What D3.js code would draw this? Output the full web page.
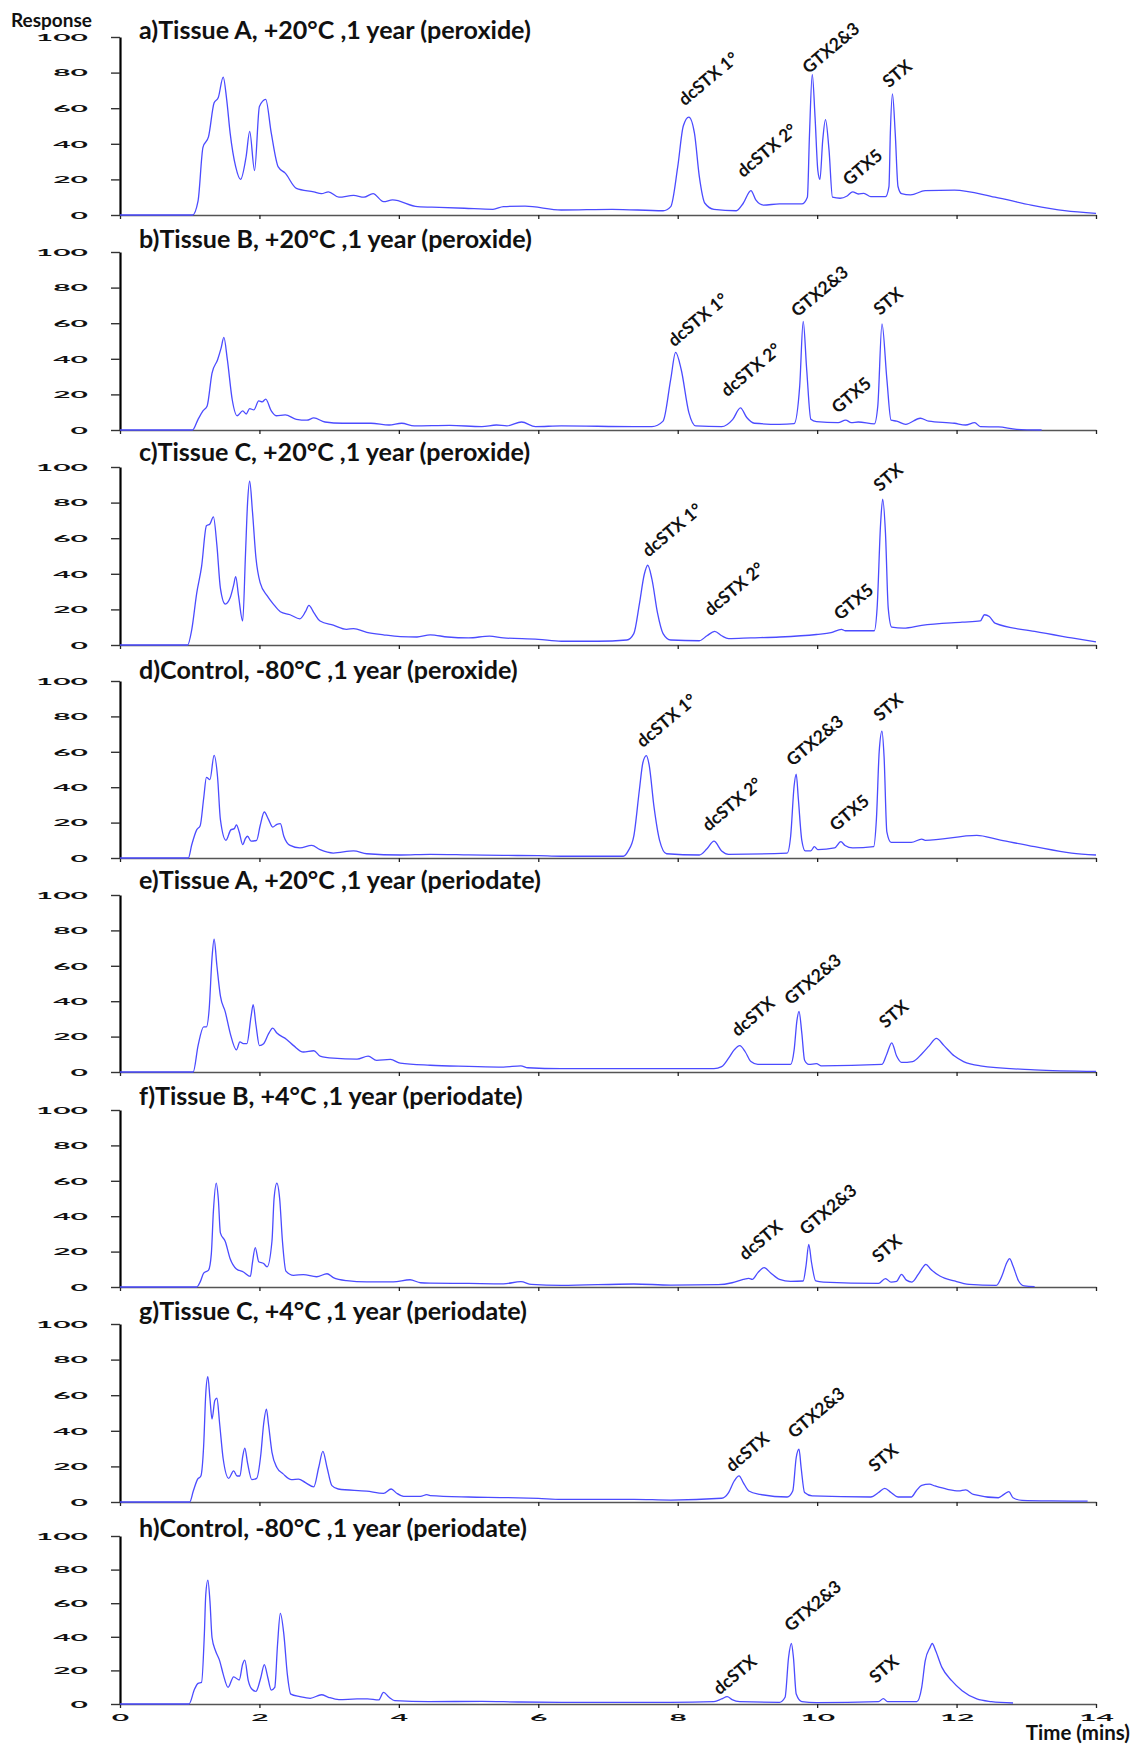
<!DOCTYPE html>
<html>
<head>
<meta charset="utf-8">
<script src="https://cdn.jsdelivr.net/npm/d3@7"></script>
<style>
  body { margin: 0; background: #fff; }
  svg text { font-family: Lato, "Open Sans", sans-serif; }
</style>
</head>
<body>
<div id="chart"></div>
<script>
// ---------- data (time in min, response 0-100) ----------
const titles = [
  "a)Tissue A, +20°C ,1 year (peroxide)",
  "b)Tissue B, +20°C ,1 year (peroxide)",
  "c)Tissue C, +20°C ,1 year (peroxide)",
  "d)Control, -80°C ,1 year (peroxide)",
  "e)Tissue A, +20°C ,1 year (periodate)",
  "f)Tissue B, +4°C ,1 year (periodate)",
  "g)Tissue C, +4°C ,1 year (periodate)",
  "h)Control, -80°C ,1 year (periodate)"
];

const traceA = [[0,0],[1.04,0],[1.12,8],[1.19,38],[1.27,44],[1.35,63],[1.41,66],[1.48,77.5],[1.53,65],[1.58,46],[1.66,27],[1.73,20],[1.81,33],[1.86,47],[1.93,25],[2.0,61],[2.09,65],[2.17,46],[2.27,27],[2.37,23.5],[2.53,15],[2.78,13],[2.89,12],[2.99,13],[3.14,10],[3.35,11],[3.5,10],[3.63,12],[3.78,7.5],[3.91,8.5],[4.27,4.7],[4.58,4.3],[4.94,3.8],[5.35,3.2],[5.5,4.7],[5.81,5],[6.33,2.8],[7.06,3.2],[7.79,2.4],[7.9,4.7],[8.0,27],[8.08,50],[8.16,55],[8.24,46],[8.31,21.6],[8.39,6.6],[8.52,3.2],[8.84,2.4],[8.94,6.6],[9.05,13.7],[9.12,8.5],[9.23,5.6],[9.46,6.2],[9.78,6.2],[9.86,10],[9.89,45],[9.93,79],[9.97,55],[10.01,25],[10.04,20],[10.08,42],[10.12,53.6],[10.17,36.7],[10.22,10],[10.33,9.4],[10.43,10.7],[10.51,13],[10.59,11.8],[10.67,12.2],[10.77,10.3],[10.98,10.3],[11.03,16],[11.05,46],[11.08,68],[11.12,46],[11.16,16],[11.21,12],[11.34,11.3],[11.55,13.7],[11.97,14],[12.55,10],[13.07,5.6],[13.55,2.4],[14.0,0.9]];

const traceB = [[0,0],[1.04,0],[1.12,6],[1.19,10.7],[1.25,13.5],[1.32,32],[1.4,39.5],[1.45,46],[1.49,52],[1.54,39.5],[1.61,17],[1.68,8],[1.76,10.7],[1.81,9],[1.86,12],[1.92,11.3],[1.99,16.4],[2.04,15.8],[2.09,17.3],[2.17,10.7],[2.24,8],[2.37,8.5],[2.53,6],[2.68,5.5],[2.78,6.8],[2.94,4.5],[3.19,3.8],[3.6,3.8],[3.86,2.8],[4.04,3.8],[4.22,2.3],[4.73,2.6],[5.19,1.9],[5.4,2.8],[5.55,2.3],[5.76,4.5],[5.96,1.9],[6.33,2.3],[7.37,1.9],[7.63,1.9],[7.79,5],[7.9,28.6],[7.97,43.6],[8.05,34],[8.16,9.8],[8.26,2.3],[8.63,1.9],[8.79,6],[8.9,12.4],[8.99,7],[9.1,3.8],[9.46,3.2],[9.67,3.6],[9.75,24.8],[9.8,61],[9.85,34],[9.91,6],[9.99,4.7],[10.3,4.1],[10.41,5.6],[10.49,4.1],[10.59,4.5],[10.82,3.4],[10.87,13.5],[10.93,59.6],[11.0,28.6],[11.06,5.5],[11.14,5],[11.27,3.2],[11.48,6.6],[11.6,5],[11.97,3.8],[12.13,2.8],[12.26,4.1],[12.34,1.9],[12.6,1.7],[12.86,0.4],[13.22,0]];

const traceC = [[0,0],[0.97,0],[1.03,8.8],[1.1,29],[1.17,44],[1.24,67],[1.29,68],[1.34,72],[1.39,56],[1.44,32],[1.51,23],[1.58,26.5],[1.63,33.6],[1.66,38.4],[1.7,27.7],[1.76,13.5],[1.8,51],[1.83,80],[1.86,92],[1.9,75],[1.95,49],[2.01,35],[2.11,27.7],[2.2,23],[2.3,18.7],[2.44,17],[2.58,14.7],[2.66,18.7],[2.71,22.3],[2.78,18.2],[2.87,13.5],[3.06,11.1],[3.25,8.8],[3.35,9.2],[3.54,7.1],[3.78,5.7],[4.02,4.7],[4.26,4.5],[4.45,5.7],[4.7,4.5],[5.0,4],[5.3,5],[5.5,4],[6.0,3.2],[6.33,2.1],[6.85,2.1],[7.27,2.8],[7.37,6.4],[7.45,23],[7.52,39.6],[7.57,44.8],[7.63,37],[7.71,18],[7.79,6.4],[7.9,2.8],[8.31,2.4],[8.42,5.2],[8.53,7.6],[8.63,5.2],[8.73,3.6],[9.05,4],[9.46,4.5],[9.99,5.9],[10.2,6.9],[10.35,8.8],[10.4,8],[10.82,8],[10.86,20.6],[10.91,68],[10.94,82],[10.98,63],[11.02,20.6],[11.07,10],[11.24,9.5],[11.5,11],[12.08,12.8],[12.34,13.5],[12.4,17],[12.47,16],[12.55,12.3],[13.12,7.6],[13.65,4],[14.0,1.7]];

const traceD = [[0,0],[0.98,0],[1.03,7.6],[1.1,15.9],[1.15,18.2],[1.2,33.6],[1.24,45.5],[1.29,44.3],[1.35,58],[1.4,45.5],[1.44,21.8],[1.52,10],[1.59,15.9],[1.64,16.6],[1.67,18.7],[1.71,14.7],[1.76,7.6],[1.8,11.1],[1.83,12.3],[1.88,9.5],[1.96,10],[2.01,18.2],[2.07,26],[2.13,21.8],[2.19,17.5],[2.25,19],[2.3,19.4],[2.35,12.3],[2.44,7.1],[2.58,5.7],[2.75,7.1],[2.87,4.7],[3.06,2.8],[3.35,4],[3.54,2.4],[4.02,1.7],[4.45,2.1],[5.0,1.8],[5.5,1.5],[6.0,1.3],[6.33,1],[7.22,1],[7.29,4],[7.37,12.3],[7.45,38.4],[7.5,53.8],[7.55,57.8],[7.59,52.6],[7.66,28.9],[7.74,10],[7.84,2.4],[8.31,1.7],[8.42,5.2],[8.52,9.5],[8.63,4],[8.73,2.1],[9.57,2.8],[9.62,12.3],[9.67,40.8],[9.7,47.4],[9.73,33.6],[9.78,10],[9.83,4],[9.91,4],[9.96,6.4],[10.01,4.7],[10.25,5.7],[10.34,9.2],[10.4,7.1],[10.51,5.7],[10.81,6.4],[10.85,21.8],[10.89,60],[10.93,71.6],[10.96,57.3],[11.0,14.7],[11.06,8.8],[11.35,8.8],[11.5,10.7],[11.55,10],[12.29,12.8],[12.6,10.4],[13.12,6.4],[13.65,2.8],[14.0,1.7]];

const traceE = [[0,0],[1.05,0],[1.12,14.9],[1.2,25.5],[1.24,25.5],[1.28,36],[1.32,64.5],[1.35,75],[1.39,60],[1.44,43],[1.51,34],[1.58,22],[1.67,12.5],[1.72,17],[1.77,16],[1.82,16],[1.88,31.4],[1.91,38],[1.95,26.7],[2.0,14.9],[2.06,16],[2.13,21.5],[2.19,24.8],[2.25,22],[2.39,18.4],[2.49,14.9],[2.63,11.3],[2.78,12],[2.87,9],[3.06,7.8],[3.4,7.3],[3.56,9],[3.68,6.6],[3.88,7.1],[4.02,5],[4.45,3.8],[5.0,3.2],[5.5,2.8],[5.75,3.5],[5.85,2.4],[6.33,1.9],[8.52,1.9],[8.63,3],[8.73,7.8],[8.81,12.5],[8.89,14.9],[8.97,11.3],[9.05,5.9],[9.15,4.3],[9.62,4.3],[9.67,12.5],[9.71,29],[9.74,34.3],[9.78,22],[9.82,6.6],[9.88,4.3],[9.99,4.7],[10.06,3.5],[10.93,4.3],[11.0,10.2],[11.07,16.5],[11.14,9],[11.21,5.4],[11.37,5.9],[11.5,10.2],[11.61,14.9],[11.71,19],[11.82,14.9],[11.97,9],[12.1,5.9],[12.34,3.5],[13.12,1.2],[14.0,0.3]];

const traceF = [[0,0],[1.1,0],[1.15,2.9],[1.2,7.8],[1.27,9.5],[1.31,18.7],[1.34,43],[1.38,58.7],[1.41,50],[1.44,30.6],[1.51,25.7],[1.58,16],[1.67,10.2],[1.77,8.5],[1.87,6],[1.9,13.8],[1.94,22.3],[1.99,14.3],[2.06,13.3],[2.11,11.4],[2.18,26],[2.21,50],[2.25,58.7],[2.29,50],[2.33,26],[2.38,9],[2.49,6.6],[2.63,7],[2.82,5.8],[2.97,7.5],[3.06,5.3],[3.25,3.6],[3.54,2.9],[3.92,2.9],[4.16,4.1],[4.31,2.4],[4.45,2.2],[5.0,2],[5.5,1.8],[5.75,3],[5.9,1.5],[6.33,0.9],[7.37,1.7],[7.9,1.1],[8.58,1.3],[8.78,2.4],[8.94,4.3],[9.02,4.9],[9.07,4.3],[9.15,8.1],[9.24,10.9],[9.33,8.1],[9.46,4.3],[9.62,3.2],[9.8,3.4],[9.84,11.8],[9.88,24],[9.92,13.7],[9.98,3.4],[10.09,2.8],[10.88,2],[10.98,4.7],[11.06,2.8],[11.14,3.2],[11.21,7.1],[11.28,3.9],[11.36,2.8],[11.45,7.1],[11.53,11.8],[11.56,12.8],[11.63,10],[11.76,6.2],[11.97,3.4],[12.18,1.5],[12.57,0.9],[12.65,6.2],[12.72,13.7],[12.76,16],[12.81,11.8],[12.89,3.4],[12.97,0.6],[13.12,0.2]];

const traceG = [[0,0],[1.0,0],[1.05,6],[1.11,12.6],[1.16,14.6],[1.2,31.6],[1.23,60.7],[1.26,70.4],[1.29,58.3],[1.32,46.6],[1.36,57],[1.39,58.3],[1.43,43.7],[1.48,24.3],[1.56,13.3],[1.63,17.5],[1.68,14.6],[1.72,14.6],[1.76,25.5],[1.79,30.3],[1.83,21.8],[1.89,12.6],[1.96,13.3],[2.02,26.7],[2.06,43.7],[2.1,52.2],[2.13,43.7],[2.18,27.9],[2.25,19.4],[2.34,15.8],[2.46,12.6],[2.56,12.9],[2.66,10.9],[2.78,8.5],[2.85,19.4],[2.91,28.4],[2.97,19.4],[3.04,9.2],[3.13,7.3],[3.54,6.1],[3.78,4.9],[3.89,7.3],[3.97,4.9],[4.07,3.2],[4.31,3.2],[4.4,4.1],[4.45,3.6],[5.0,2.8],[5.5,2.5],[6.0,2],[6.33,1.5],[7.37,1.5],[7.9,1.1],[8.63,2.1],[8.73,5.3],[8.81,11.8],[8.88,14.7],[8.94,10.9],[9.02,6.2],[9.18,4.3],[9.57,2.8],[9.65,6.2],[9.7,25],[9.74,29.7],[9.77,19.4],[9.82,5.3],[9.93,3.4],[10.77,2.8],[10.88,5.3],[10.97,7.7],[11.06,5.3],[11.16,2.8],[11.35,2.8],[11.42,6.2],[11.5,9.4],[11.61,10],[11.69,9],[11.87,7.1],[12.03,6.2],[12.13,6.8],[12.24,4.3],[12.6,2.4],[12.68,4.3],[12.75,5.8],[12.81,2.4],[12.94,0.9],[13.36,0.6],[13.88,0.5]];

const traceH = [[0,0],[0.99,0],[1.07,8.9],[1.12,12.3],[1.17,12.9],[1.21,41.6],[1.23,65],[1.26,73.7],[1.29,61.4],[1.32,39.6],[1.37,31.7],[1.43,25.7],[1.48,17.8],[1.55,9.9],[1.63,16.2],[1.71,14.3],[1.76,23.8],[1.79,26.1],[1.84,13.9],[1.89,8.9],[1.95,7.5],[2.02,15.8],[2.07,23.4],[2.12,15.8],[2.17,8.3],[2.22,9.9],[2.26,35.6],[2.3,53.9],[2.35,41.6],[2.4,17.8],[2.45,5.9],[2.58,4.4],[2.73,3.4],[2.89,5.5],[2.99,4],[3.14,2.6],[3.4,3],[3.55,3],[3.71,2.4],[3.78,6.9],[3.86,4],[3.94,2],[4.43,1.4],[5.19,1.6],[5.71,1.2],[6.33,1],[7.9,1],[8.52,1.4],[8.63,3],[8.71,4.4],[8.78,2.6],[8.89,1.4],[9.46,1],[9.54,4],[9.59,27.7],[9.63,36],[9.66,27.7],[9.7,5.9],[9.78,1.4],[9.99,0.8],[10.88,1.4],[10.95,3.2],[11.01,1.4],[11.43,1.4],[11.5,9.9],[11.55,25.7],[11.62,33.7],[11.65,36],[11.7,31.7],[11.79,21.8],[11.93,13.9],[12.08,7.9],[12.29,3],[12.5,1.4],[12.81,0.6]];

const traces = [traceA, traceB, traceC, traceD, traceE, traceF, traceG, traceH];

// peak annotations: [panel index, label, time, response]
const peakLabels = [
  [0,"dcSTX 1°",8.1,61],[0,"dcSTX 2°",8.94,20.7],[0,"GTX2&3",9.88,79],[0,"GTX5",10.46,16],[0,"STX",11.03,71],
  [1,"dcSTX 1°",7.95,46.4],[1,"dcSTX 2°",8.71,18.2],[1,"GTX2&3",9.72,63],[1,"GTX5",10.3,8.8],[1,"STX",10.9,64],
  [2,"dcSTX 1°",7.58,49],[2,"dcSTX 2°",8.47,15.9],[2,"GTX5",10.33,13.5],[2,"STX",10.9,85.8],
  [3,"dcSTX 1°",7.5,62],[3,"dcSTX 2°",8.44,14.7],[3,"GTX2&3",9.65,51.4],[3,"GTX5",10.27,14.7],[3,"STX",10.9,76.8],
  [4,"dcSTX",8.86,19.6],[4,"GTX2&3",9.62,37.4],[4,"STX",10.98,24.3],
  [5,"dcSTX",8.97,14.7],[5,"GTX2&3",9.84,28.8],[5,"STX",10.88,13.3],
  [6,"dcSTX",8.78,16.5],[6,"GTX2&3",9.67,35.3],[6,"STX",10.83,16.5],
  [7,"dcSTX",8.6,5],[7,"GTX2&3",9.62,42.6],[7,"STX",10.84,11.9]
];

const yTicks = [0, 20, 40, 60, 80, 100];
const xTicks = [0, 2, 4, 6, 8, 10, 12, 14];

// ---------- layout ----------
const W = 1133, H = 1744;
const panelTop = [37, 252, 467, 681, 895, 1110, 1324, 1536];
const panelBottom = [215, 430, 645, 858, 1072, 1287, 1502, 1704];
const titleBase = [39, 248, 461, 679, 889, 1105, 1320, 1537];

const svg = d3.select("#chart").append("svg")
  .attr("width", W).attr("height", H)
  .attr("viewBox", `0 0 ${W} ${H}`);

const x = d3.scaleLinear().domain([0, 14]).range([120, 1096]);
const line = d3.line().curve(d3.curveMonotoneX);

const traceColor = "#4b4bff";
const tickFont = "'Liberation Sans', Arial, sans-serif";

traces.forEach((tr, i) => {
  const y = d3.scaleLinear().domain([0, 100]).range([panelBottom[i], panelTop[i]]);
  const g = svg.append("g");

  // x axis
  const xa = g.append("g")
    .attr("transform", `translate(0,${panelBottom[i]})`)
    .call(d3.axisBottom(x).tickValues(xTicks).tickSize(4).tickSizeOuter(0));
  xa.select(".domain").attr("stroke", "#555").attr("stroke-width", 1.5);
  xa.selectAll(".tick line").attr("stroke", "#222").attr("stroke-width", 1.3);
  if (i === traces.length - 1) {
    xa.selectAll(".tick text")
      .attr("y", null).attr("dy", "0.35em")
      .attr("transform", "translate(0,13) scale(3,1)")
      .attr("font-family", tickFont).attr("font-weight", 700)
      .attr("font-size", 10).attr("fill", "#111");
  } else {
    xa.selectAll(".tick text").remove();
  }

  // y axis
  const ya = g.append("g")
    .attr("transform", "translate(120,0)")
    .call(d3.axisLeft(y).tickValues(yTicks).tickSize(9).tickSizeOuter(0));
  ya.select(".domain").attr("stroke", "#000").attr("stroke-width", 2.2);
  ya.selectAll(".tick line").attr("stroke", "#333").attr("stroke-width", 1.4);
  ya.selectAll(".tick text")
    .attr("x", null)
    .attr("transform", "translate(-32,0) scale(3,1)")
    .attr("font-family", tickFont).attr("font-weight", 700)
    .attr("font-size", 10).attr("fill", "#111");

  // trace
  g.append("path")
    .attr("d", line(tr.map(d => [x(d[0]), y(d[1])])))
    .attr("fill", "none")
    .attr("stroke", traceColor)
    .attr("stroke-width", 1.3)
    .attr("stroke-linejoin", "round");

  // title
  g.append("text")
    .attr("class", "ptitle")
    .attr("x", 139).attr("y", titleBase[i])
    .attr("font-weight", 700)
    .attr("font-size", 18)
    .attr("fill", "#111")
    .text(titles[i]);

  // peak labels
  g.selectAll(".peak")
    .data(peakLabels.filter(p => p[0] === i))
    .join("text")
    .attr("class", "peak")
    .attr("transform", d => `translate(${x(d[2])},${y(d[3])}) rotate(-40)`)
    .attr("font-size", 17.5)
    .attr("font-weight", 700)
    .attr("fill", "#111")
    .text(d => d[1]);
});

// fit title size so the first title spans ~392px like the reference
const t0 = svg.select(".ptitle").node().getComputedTextLength();
svg.selectAll(".ptitle").attr("font-size", 18 * 392 / t0);

svg.append("text")
  .attr("x", 11).attr("y", 27)
  .attr("font-weight", 700).attr("font-size", 19).attr("fill", "#111")
  .text("Response");

svg.append("text")
  .attr("x", 1130).attr("y", 1740)
  .attr("text-anchor", "end")
  .attr("font-weight", 700).attr("font-size", 20.5).attr("fill", "#111")
  .text("Time (mins)");
</script>
</body>
</html>
